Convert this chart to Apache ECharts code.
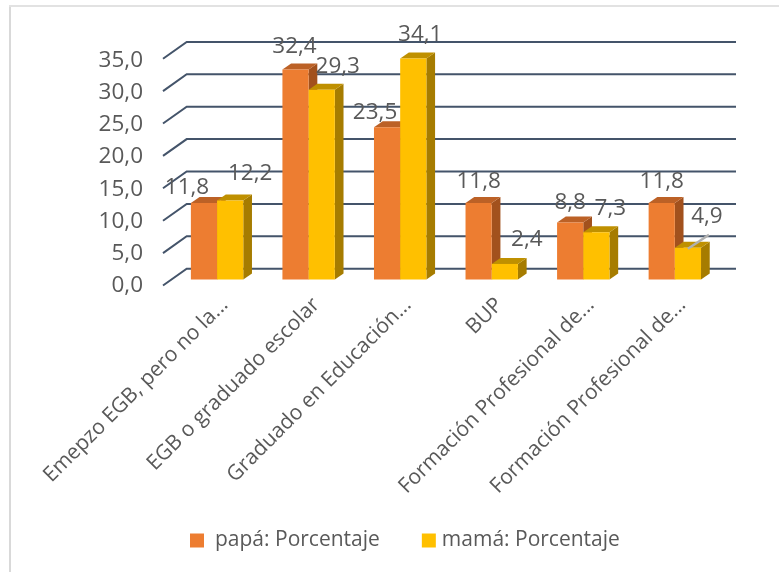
<!DOCTYPE html>
<html><head><meta charset="utf-8">
<style>html,body{margin:0;padding:0;background:#fff}#c{width:779px;height:572px}</style>
<script src="https://cdn.jsdelivr.net/npm/echarts@6/dist/echarts.min.js"></script>
</head><body><div id="c"></div>
<script>
const categories = ["Emepzo EGB, pero no la...","EGB o graduado escolar","Graduado en Educación...","BUP","Formación Profesional de...","Formación Profesional de..."];
const papa = [11.8,32.4,23.5,11.8,8.8,11.8];
const mama = [12.2,29.3,34.1,2.4,7.3,4.9];
const yTicks = [0,5,10,15,20,25,30,35];

// layout constants (not data)
const FONT = '"Open Sans"', TXT = '#595959';
const PLANE = [8.3,-6], BAR_D = [8.7,-6], WALL = [23.7,-16.8], BAR_W = 26.2;
const papaNudge = [[-17,-15],[-1,-23],[-12,-15],[0,-21],[0,-20],[0,-21]];
const mamaNudge = [[20,-27],[16,-23],[7,-24],[22,-24],[14,-24],[19,-31]];
const leaderAt = 5;

function fmt(v){return v.toFixed(1).replace('.',',');}
function poly(pts,color,z2){return {type:'polygon',shape:{points:pts},style:{fill:color},z2:z2||2};}

function barRender(side,cols,nudge,leader){
  return function(params,api){
    const i=api.value(0), v=api.value(1);
    const top=api.coord([i,v]), bot=api.coord([i,0]);
    const x0=top[0]+PLANE[0]+(side<0?-BAR_W:0), x1=x0+BAR_W;
    const y0=top[1]+PLANE[1], y1=bot[1]+PLANE[1];
    const dx=BAR_D[0], dy=BAR_D[1];
    const kids=[
      poly([[x1,y0],[x1+dx,y0+dy],[x1+dx,y1+dy],[x1,y1]],cols[2]),
      poly([[x0,y0],[x0+dx,y0+dy],[x1+dx,y0+dy],[x1,y0]],cols[1]),
      poly([[x0,y0],[x1,y0],[x1,y1],[x0,y1]],cols[0],3),
      {type:'text',z2:50,style:{text:fmt(v),x:(x0+x1)/2+nudge[i][0],y:y0+nudge[i][1],
        align:'center',verticalAlign:'middle',fontFamily:FONT,fontSize:22.5,fill:TXT}}
    ];
    if(leader && i===leaderAt){
      kids.push({type:'line',z2:40,shape:{x1:(x0+x1)/2,y1:y0+1,x2:(x0+x1)/2+21,y2:y0-13},style:{stroke:'#b0b0b0',lineWidth:2.5}});
    }
    return {type:'group',children:kids};
  };
}
function gridRender(params,api){
  const p=api.coord([0,api.value(1)]), cs=params.coordSys;
  const xb=cs.x+WALL[0], yb=p[1]+WALL[1];
  return {type:'polyline',shape:{points:[[cs.x,p[1]],[xb,yb],[xb+cs.width,yb]]},
    style:{fill:'none',stroke:'#44546A',lineWidth:2}};
}

const chart=echarts.init(document.getElementById('c'),null,{renderer:'canvas'});
chart.setOption({
  animation:false,
  backgroundColor:'#ffffff',
  graphic:[
    {type:'rect',shape:{x:9,y:5,width:2,height:567},style:{fill:'#d9d9d9'},silent:true},
    {type:'rect',shape:{x:9,y:5,width:770,height:2},style:{fill:'#e2e2e2'},silent:true}
  ],
  grid:[
    {left:163,top:58.7,width:549.3,height:226.8},
    {left:179,top:60.7,width:549.3,height:224.8}
  ],
  xAxis:[
    {type:'category',gridIndex:0,data:categories,axisLine:{show:false},axisTick:{show:false},axisLabel:{show:false}},
    {type:'category',gridIndex:1,data:categories,axisLine:{show:false},axisTick:{show:false},
      axisLabel:{interval:0,rotate:45,margin:16,fontFamily:FONT,fontSize:21,color:TXT,hideOverlap:false,overflow:'none',width:400}}
  ],
  yAxis:[
    {type:'value',gridIndex:0,min:0,max:35,interval:5,show:false,splitLine:{show:false}},
    {type:'value',gridIndex:1,min:0,max:35,interval:5,axisLine:{show:false},axisTick:{show:false},splitLine:{show:false},
      axisLabel:{margin:36,fontFamily:FONT,fontSize:22.5,color:TXT,formatter:fmt}}
  ],
  legend:{left:190,top:530,padding:0,itemWidth:14,itemHeight:14,itemGap:42,icon:'rect',
    data:[{name:'papá: Porcentaje',textStyle:{padding:[0,0,0,6]}},{name:'mamá: Porcentaje',textStyle:{padding:[0,0,0,1]}}],
    textStyle:{fontFamily:FONT,fontSize:21,color:TXT}},
  series:[
    {type:'custom',name:'gridlines',xAxisIndex:0,yAxisIndex:0,clip:false,silent:true,z:1,
      data:yTicks.map(t=>[0,t]),encode:{x:0,y:1},renderItem:gridRender},
    {type:'custom',name:'papá: Porcentaje',xAxisIndex:0,yAxisIndex:0,clip:false,z:2,itemStyle:{color:'#ED7D31'},
      data:papa.map((v,i)=>[i,v]),encode:{x:0,y:1},
      renderItem:barRender(-1,['#ED7D31','#BC6126','#A2511D'],papaNudge,false)},
    {type:'custom',name:'mamá: Porcentaje',xAxisIndex:0,yAxisIndex:0,clip:false,z:3,itemStyle:{color:'#FFC000'},
      data:mama.map((v,i)=>[i,v]),encode:{x:0,y:1},
      renderItem:barRender(1,['#FFC000','#BF9000','#A67C00'],mamaNudge,true)}
  ]
});
</script></body></html>
